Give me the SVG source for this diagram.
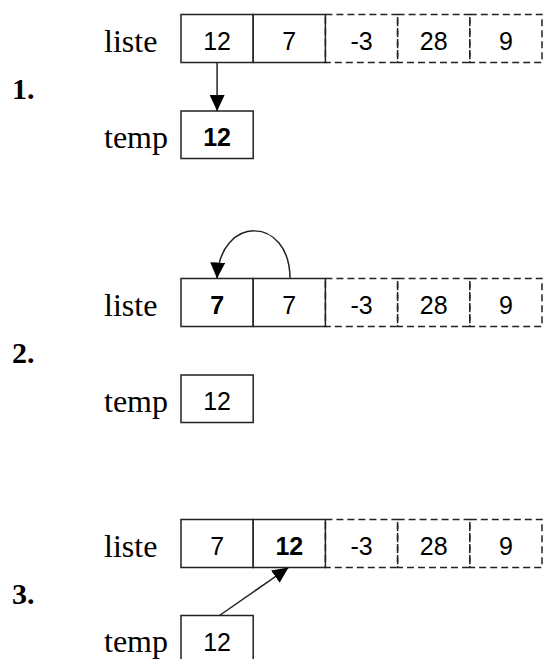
<svg xmlns="http://www.w3.org/2000/svg" width="544" height="659" viewBox="0 0 544 659">
<defs>
<style>
.lbl{font-family:"Liberation Serif","Times New Roman",serif;font-size:32px;fill:#000}
.num{font-family:"Liberation Serif","Times New Roman",serif;font-size:30px;font-weight:bold;fill:#000}
.val{font-family:"Liberation Sans",Arial,sans-serif;font-size:25px;fill:#000;text-anchor:middle}
.b{font-weight:bold}
.cell{fill:#fff;stroke:#222;stroke-width:1.5}
.dash{fill:none;stroke:#222;stroke-width:1.5;stroke-dasharray:7 4}
.conn{fill:none;stroke:#222;stroke-width:1.5}
</style>
<marker id="ah" markerUnits="userSpaceOnUse" markerWidth="17" markerHeight="15" refX="16" refY="7.5" orient="auto">
<path d="M0,0 L16,7.5 L0,15 z" fill="#000"/>
</marker>
</defs>

<g id="step1">
<text class="num" x="12" y="99">1.</text>
<g id="s1-liste">
<text class="lbl" x="104" y="52">liste</text>
<rect class="cell" x="181" y="14.5" width="72.2" height="48"/>
<rect class="cell" x="253.2" y="14.5" width="72.2" height="48"/>
<rect class="dash" x="325.4" y="14.5" width="72.2" height="48"/>
<rect class="dash" x="397.6" y="14.5" width="72.2" height="48"/>
<rect class="dash" x="469.8" y="14.5" width="72.2" height="48"/>
<text class="val" x="217.1" y="49.5">12</text>
<text class="val" x="289.3" y="49.5">7</text>
<text class="val" x="361.5" y="49.5">-3</text>
<text class="val" x="433.7" y="49.5">28</text>
<text class="val" x="505.9" y="49.5">9</text>
</g>
<g id="s1-temp">
<text class="lbl" x="104" y="147.5">temp</text>
<rect class="cell" x="181" y="111" width="72.2" height="47.5"/>
<text class="val b" x="217.1" y="146">12</text>
</g>
</g>

<g id="step2">
<text class="num" x="12" y="363">2.</text>
<g id="s2-liste">
<text class="lbl" x="104" y="316">liste</text>
<rect class="cell" x="181" y="278.5" width="72.2" height="48"/>
<rect class="cell" x="253.2" y="278.5" width="72.2" height="48"/>
<rect class="dash" x="325.4" y="278.5" width="72.2" height="48"/>
<rect class="dash" x="397.6" y="278.5" width="72.2" height="48"/>
<rect class="dash" x="469.8" y="278.5" width="72.2" height="48"/>
<text class="val b" x="217.1" y="313.5">7</text>
<text class="val" x="289.3" y="313.5">7</text>
<text class="val" x="361.5" y="313.5">-3</text>
<text class="val" x="433.7" y="313.5">28</text>
<text class="val" x="505.9" y="313.5">9</text>
</g>
<g id="s2-temp">
<text class="lbl" x="104" y="411.5">temp</text>
<rect class="cell" x="181" y="375" width="72.2" height="47.5"/>
<text class="val" x="217.1" y="410">12</text>
</g>
</g>

<g id="step3">
<text class="num" x="12" y="604">3.</text>
<g id="s3-liste">
<text class="lbl" x="104" y="557">liste</text>
<rect class="cell" x="181" y="519.5" width="72.2" height="48"/>
<rect class="cell" x="253.2" y="519.5" width="72.2" height="48"/>
<rect class="dash" x="325.4" y="519.5" width="72.2" height="48"/>
<rect class="dash" x="397.6" y="519.5" width="72.2" height="48"/>
<rect class="dash" x="469.8" y="519.5" width="72.2" height="48"/>
<text class="val" x="217.1" y="554.5">7</text>
<text class="val b" x="289.3" y="554.5">12</text>
<text class="val" x="361.5" y="554.5">-3</text>
<text class="val" x="433.7" y="554.5">28</text>
<text class="val" x="505.9" y="554.5">9</text>
</g>
<g id="s3-temp">
<text class="lbl" x="104" y="652">temp</text>
<rect class="cell" x="181" y="615.5" width="72.2" height="47.5"/>
<text class="val" x="217.1" y="650.5">12</text>
</g>
</g>

<g id="connectors">
<line class="conn" x1="217.1" y1="62.5" x2="217.1" y2="111" marker-end="url(#ah)"/>
<path class="conn" d="M290,278.5 C290,216 220,214 217,278.5" marker-end="url(#ah)"/>
<line class="conn" x1="219.5" y1="615.5" x2="288.5" y2="567.5" marker-end="url(#ah)"/>
</g>
</svg>
